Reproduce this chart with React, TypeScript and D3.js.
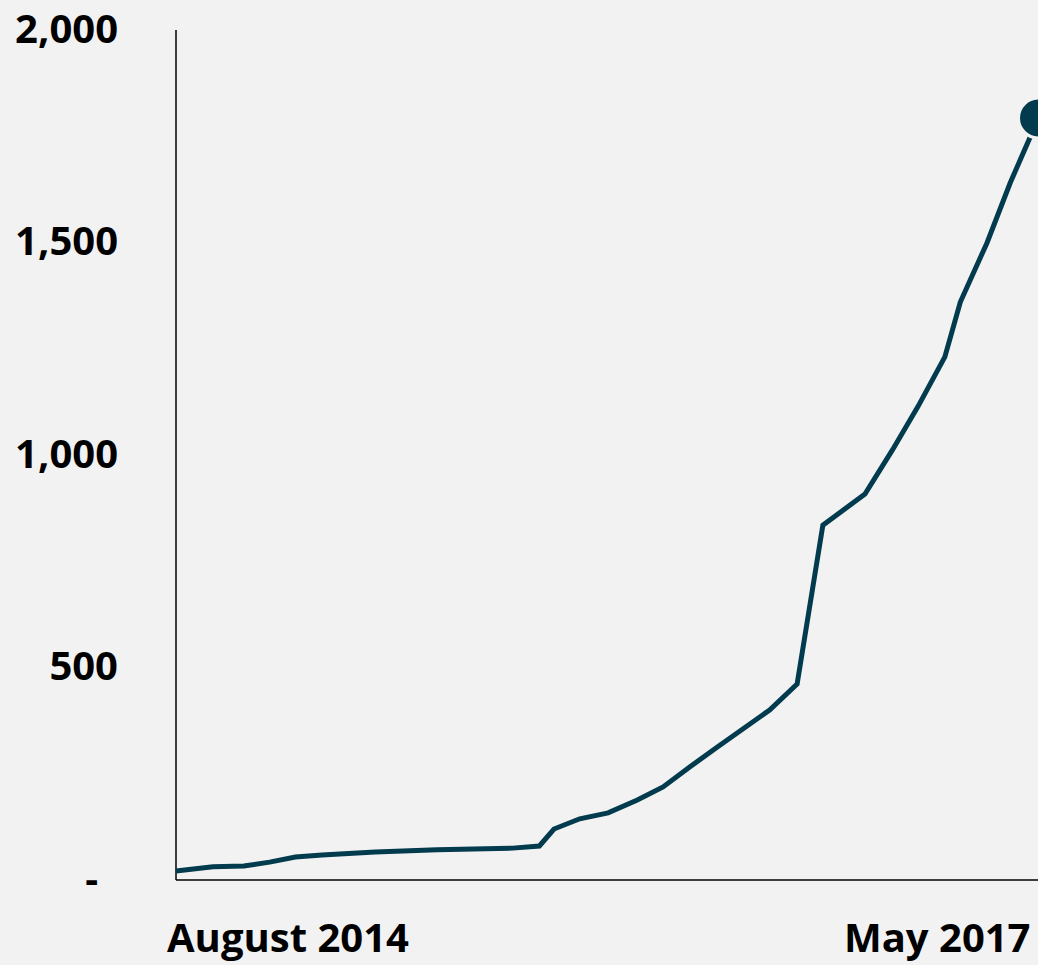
import React from "react";
import * as d3 from "d3";

const dates: string[] = [
  "2014-08-01", "2014-09-13", "2014-10-19", "2014-11-18", "2014-12-18",
  "2015-01-18", "2015-03-21", "2015-06-01", "2015-08-28", "2015-09-28",
  "2015-10-15", "2015-11-14", "2015-12-17", "2016-01-20", "2016-02-19",
  "2016-03-21", "2016-04-21", "2016-06-22", "2016-07-24", "2016-08-23",
  "2016-10-11", "2016-11-12", "2016-12-12", "2017-01-12", "2017-01-30",
  "2017-03-02", "2017-03-29", "2017-05-01",
];
const values: number[] = [
  21, 31, 33, 42, 54,
  59, 66, 71, 75, 80,
  120, 144, 158, 188, 219,
  266, 311, 400, 461, 835,
  908, 1012, 1115, 1231, 1360,
  1499, 1640, 1793,
];
const yTicks: number[] = [0, 500, 1000, 1500, 2000];
const xLabels: string[] = ["August 2014", "May 2017"];

const W = 1038;
const H = 965;
const FONT = "'Open Sans', 'Noto Sans', sans-serif";
const LINE = "#023a4e";
const BG = "#f2f2f2";

export default function App() {
  const parse = d3.timeParse("%Y-%m-%d");
  const pts = dates.map((d, i) => ({ date: parse(d) as Date, v: values[i] }));
  const x = d3
    .scaleTime()
    .domain([pts[0].date, pts[pts.length - 1].date])
    .range([176, 1038.5]);
  const y = d3.scaleLinear().domain([0, 2000]).range([880, 30]);
  const line = d3
    .line<{ date: Date; v: number }>()
    .x((d) => x(d.date))
    .y((d) => y(d.v));
  const fmt = d3.format(",");
  const last = pts[pts.length - 1];

  return (
    <svg
      width={W}
      height={H}
      style={{ position: "absolute", left: 0, top: 0, display: "block" }}
    >
      <rect x={0} y={0} width={W} height={H} fill={BG} />
      {/* axes */}
      <line x1={176} x2={176} y1={y(2000)} y2={y(0)} stroke="#000" strokeWidth={1.5} />
      <line x1={176} x2={W} y1={y(0)} y2={y(0)} stroke="#000" strokeWidth={1.5} />
      {/* y tick labels */}
      {yTicks.map((t) => (
        <text
          key={t}
          x={t === 0 ? 98 : 118}
          y={y(t) + 2}
          textAnchor="end"
          dominantBaseline="middle"
          fontFamily={FONT}
          fontWeight={700}
          fontSize={40}
          fill="#000"
        >
          {t === 0 ? "-" : fmt(t)}
        </text>
      ))}
      {/* x labels */}
      <text
        x={x(pts[0].date) - 9}
        y={952}
        textAnchor="start"
        fontFamily={FONT}
        fontWeight={700}
        fontSize={40}
        fill="#000"
      >
        {xLabels[0]}
      </text>
      <text
        x={x(last.date) - 8}
        y={952}
        textAnchor="end"
        fontFamily={FONT}
        fontWeight={700}
        fontSize={40}
        fill="#000"
      >
        {xLabels[1]}
      </text>
      {/* series */}
      <path
        d={line(pts) || ""}
        fill="none"
        stroke={LINE}
        strokeWidth={5}
        strokeLinejoin="miter"
      />
      <circle
        cx={x(last.date)}
        cy={y(last.v)}
        r={20}
        fill={LINE}
        stroke={BG}
        strokeWidth={3}
      />
    </svg>
  );
}
